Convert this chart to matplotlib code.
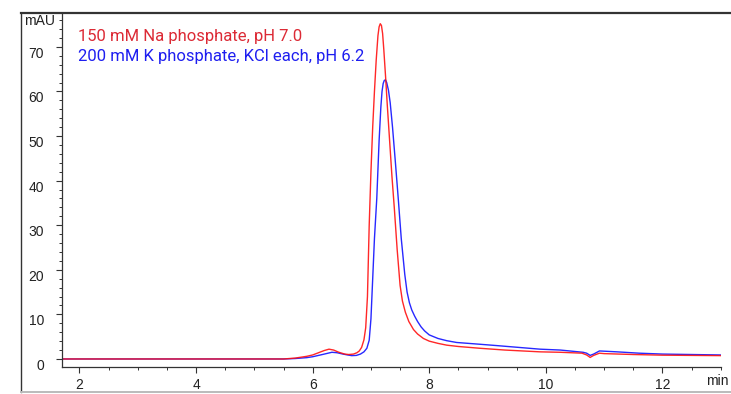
import numpy as np
import matplotlib
matplotlib.use('Agg')
import matplotlib.pyplot as plt
from matplotlib.lines import Line2D
from matplotlib.ticker import MultipleLocator

# retention time (min) / absorbance (mAU)
t_na = [1.70, 5.50, 5.70, 5.90, 6.00, 6.10, 6.20, 6.28, 6.36, 6.45, 6.55, 6.62,
        6.70, 6.76, 6.80, 6.84, 6.88, 6.91, 6.94, 6.97, 7.00, 7.03, 7.06, 7.09,
        7.12, 7.14, 7.16, 7.18, 7.20, 7.22, 7.25, 7.28, 7.32, 7.36, 7.40, 7.45,
        7.50, 7.54, 7.59, 7.65, 7.73, 7.80, 7.90, 8.00, 8.15, 8.30, 8.50, 8.87,
        9.30, 9.90, 10.25, 10.62, 10.70, 10.76, 10.82, 10.92, 11.00, 11.50,
        12.00, 12.50, 13.00]
a_na = [0.0, 0.0, 0.2, 0.6, 0.9, 1.4, 1.9, 2.2, 2.0, 1.5, 1.1, 1.0,
        1.1, 1.4, 1.8, 2.6, 4.3, 7.0, 14.0, 30.0, 42.0, 52.0, 60.0, 67.0,
        72.5, 74.5, 75.2, 74.8, 73.0, 69.5, 63.5, 57.0, 49.0, 41.0, 34.0, 24.5,
        16.5, 13.0, 10.5, 8.4, 6.6, 5.6, 4.6, 4.0, 3.5, 3.1, 2.8, 2.4,
        2.0, 1.6, 1.5, 1.3, 0.9, 0.35, 0.8, 1.3, 1.2, 1.0,
        0.85, 0.8, 0.75]

t_k = [1.70, 5.50, 5.70, 5.90, 6.00, 6.10, 6.20, 6.33, 6.42, 6.52, 6.60, 6.67,
       6.75, 6.82, 6.88, 6.93, 6.97, 7.00, 7.03, 7.06, 7.10, 7.14, 7.17, 7.19,
       7.21, 7.23, 7.25, 7.27, 7.30, 7.33, 7.37, 7.42, 7.47, 7.52, 7.58, 7.62,
       7.66, 7.70, 7.75, 7.80, 7.86, 7.92, 8.00, 8.15, 8.30, 8.47, 8.87, 9.16,
       9.90, 10.25, 10.64, 10.70, 10.76, 10.82, 10.92, 11.22, 11.60, 12.00,
       12.50, 13.00]
a_k = [0.0, 0.0, 0.1, 0.3, 0.5, 0.8, 1.1, 1.5, 1.4, 1.1, 0.9, 0.75,
       0.8, 1.1, 1.6, 2.4, 4.2, 9.0, 18.0, 27.0, 36.0, 49.0, 56.5, 60.0,
       61.8, 62.5, 62.6, 62.0, 60.3, 57.5, 52.0, 44.0, 35.7, 27.0, 19.0, 15.0,
       12.6, 11.0, 9.6, 8.4, 7.2, 6.3, 5.4, 4.6, 4.1, 3.7, 3.3, 3.0,
       2.2, 2.0, 1.5, 1.3, 0.8, 1.1, 1.8, 1.6, 1.3, 1.1,
       1.0, 0.9]

label_na = '150 mM Na phosphate, pH 7.0'
label_k = '200 mM K phosphate, KCl each, pH 6.2'

fig = plt.figure(figsize=(7.31, 3.94), dpi=100)
ax = fig.add_axes([62 / 731, 1 - 367 / 394, (720.7 - 62) / 731, (367 - 13) / 394])

ax.plot(t_k, a_k, color='#1010ff', lw=1.0, alpha=0.9)
ax.plot(t_na, a_na, color='#ff1010', lw=1.0, alpha=0.9)

ax.set_xlim(1.70, 13.0)
ax.set_ylim(-1.8, 77.6)

for s in ['top', 'right']:
    ax.spines[s].set_visible(False)
for s in ['left', 'bottom']:
    ax.spines[s].set_color('#333333')
    ax.spines[s].set_linewidth(0.9)

ax.xaxis.set_major_locator(MultipleLocator(2))
ax.xaxis.set_minor_locator(MultipleLocator(0.5))
ax.yaxis.set_major_locator(MultipleLocator(10))
ax.yaxis.set_minor_locator(MultipleLocator(2))
ax.tick_params(which='major', length=4, width=0.8, color='#333333',
               labelsize=10, pad=4)
ax.tick_params(which='minor', length=2.5, width=0.7, color='#333333')
ax.tick_params(axis='y', pad=9)
for lbl in ax.get_xticklabels() + ax.get_yticklabels():
    lbl.set_family('Liberation Sans')
    lbl.set_color('#222222')
plt.setp(ax.get_yticklabels(), va='top')

fig.text(40 / 731, 1 - 21 / 394, 'mAU', ha='center', va='center',
         fontsize=10, family='Liberation Sans', color='#222222')
fig.text(729 / 731, 1 - 381 / 394, 'min', ha='right', va='center',
         fontsize=10, family='Liberation Sans', color='#222222')

fig.text(78 / 731, 1 - 36 / 394, label_na, ha='left', va='center',
         fontsize=12, family='Roboto', color='#dc2a35')
fig.text(78 / 731, 1 - 56 / 394, label_k, ha='left', va='center',
         fontsize=12, family='Roboto', color='#1e1ef0')

# outer frame of the exported plot window
fig.add_artist(Line2D([20.5 / 731, 1.0], [1 - 12.5 / 394] * 2, color='#333333', lw=1.6))
fig.add_artist(Line2D([20.5 / 731] * 2, [1 - 12.5 / 394, 1 - 392 / 394], color='#333333', lw=1.0))
fig.add_artist(Line2D([20.5 / 731, 1.0], [1 - 392 / 394] * 2, color='#bbbbbb', lw=1.4))

fig.savefig('out.png', dpi=100)
